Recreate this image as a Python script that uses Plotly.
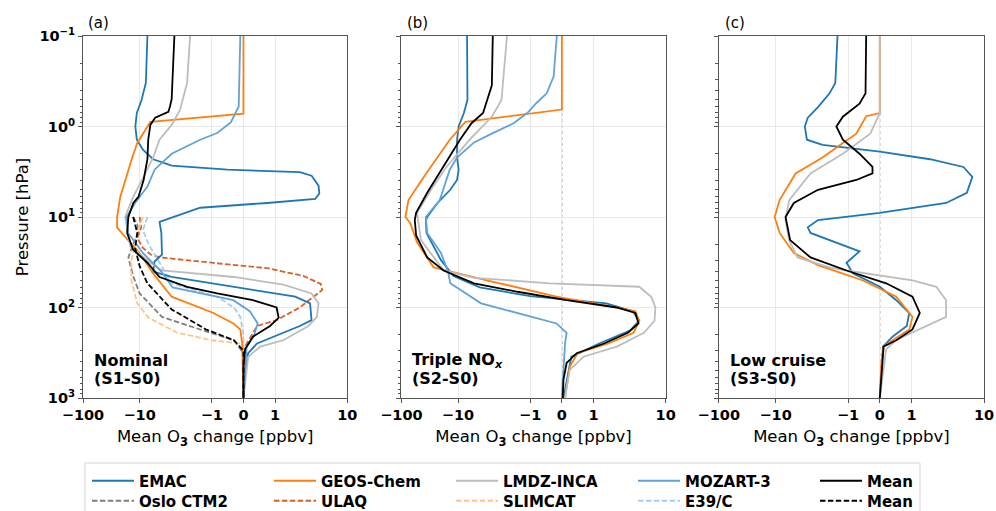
import numpy as np
import plotly.graph_objects as go

# ---------------- data: pressure [hPa] and mean O3 change [ppbv] ----------------
# Panel (a) Nominal (S1-S0)
a_emac_p = [0.1, 0.33, 0.51, 0.71, 1.0, 1.4, 1.8, 2.3, 2.7, 3.0, 3.2, 3.5, 4.5, 5.5, 6.3, 7.0, 7.9, 11.3, 15, 24, 26, 31, 40, 46, 59, 76, 90, 138, 160, 250, 320, 500, 1000]
a_emac_v = [-7.8, -8.2, -9.4, -11.2, -11.9, -11.2, -9.0, -6.5, -3.6, -0.5, 2.2, 3.2, 4.0, 4.1, 3.6, 0.75, -1.45, -5.3, -5.0, -5.0, -4.9, -6.2, -6.5, -3.6, -0.32, 1.9, 3.05, 3.2, 2.2, 0.43, 0.15, 0.05, 0.0]
a_geos_p = [0.1, 0.72, 0.89, 1.0, 1.52, 2.2, 3.9, 6, 10, 13, 16, 25, 42, 76, 115, 150, 175, 250, 1000]
a_geos_v = [0, 0, -7.1, -7.8, -11, -13.5, -17.9, -22, -25, -25, -19, -10, -6.5, -3.6, -0.95, -0.32, -0.1, -0.04, 0]
a_lmdz_p = [0.1, 0.33, 0.65, 0.96, 1.4, 2.2, 3.6, 6, 10, 21, 32, 39, 46, 56, 70, 90, 127, 160, 230, 270, 350, 1000]
a_lmdz_v = [-2.0, -2.2, -2.75, -3.6, -5.3, -6.5, -8.8, -13, -18, -14.6, -7.1, -4.9, -0.3, 1.3, 3.2, 4.0, 3.8, 2.9, 1.3, 0.53, 0.15, 0]
a_moz_p = [0.1, 0.6, 0.9, 1.18, 1.4, 2.0, 3.0, 4.6, 7, 10, 15, 25, 40, 60, 83, 110, 150, 210, 270, 1000]
a_moz_v = [-0.1, -0.15, -0.4, -0.83, -1.45, -3.6, -6.2, -7.8, -12, -17, -16, -9, -5, -3.5, -0.32, 0.2, 0.45, 0.32, 0.1, 0]
a_mean_p = [0.1, 0.5, 0.6, 0.69, 0.8, 0.96, 1.4, 2.3, 3.9, 6, 7, 10, 15, 23, 32, 46, 59, 70, 83, 100, 130, 160, 210, 290, 450, 1000]
a_mean_v = [-3.3, -3.6, -3.8, -4, -6.1, -7.1, -7.6, -7.8, -8.8, -10.5, -12.9, -15.8, -16.6, -13, -7.8, -5.3, -2.2, -0.83, 0.3, 1.05, 1.12, 0.84, 0.3, 0.05, 0, 0]
a_oslo_p = [10, 12, 15, 20, 28, 45, 70, 127, 175, 230, 320, 1000]
a_oslo_v = [-13, -11, -10.5, -13, -15.8, -13, -10, -4.9, -1.45, -0.3, 0, 0]
a_ulaq_p = [10, 13, 17, 22, 26, 28, 32, 37, 45, 55, 64, 80, 100, 138, 160, 270, 1000]
a_ulaq_v = [-10, -9.5, -11, -9, -7, -5.2, -1, 0.8, 2.5, 4.3, 4.5, 3.2, 2.2, 1.05, 0.43, 0.05, 0]
a_slim_p = [10, 15, 20, 30, 50, 90, 130, 190, 230, 250, 270, 1000]
a_slim_v = [-9, -11, -12, -14, -14, -11, -7.5, -3, -1, -0.1, 0, 0]
a_e39_p = [10, 14, 20, 30, 54, 76, 100, 127, 200, 1000]
a_e39_v = [-7.8, -9, -7.5, -5.5, -3.6, -0.83, -0.3, -0.1, 0, 0]
a_meand_p = [10, 15, 22, 35, 54, 105, 175, 230, 300, 1000]
a_meand_v = [-13, -11, -12, -10, -7.8, -3.6, -1.2, -0.3, 0, 0]

# Panel (b) Triple NOx (S2-S0)
b_emac_p = [0.1, 0.51, 0.71, 1.0, 1.4, 2.2, 3.0, 3.9, 5, 7, 10, 11, 15, 30, 45, 60, 75, 90, 110, 140, 180, 250, 350, 1000]
b_emac_v = [-7.5, -7.4, -8.3, -9.8, -10.4, -10.4, -9.8, -10.4, -13.7, -23, -35, -37, -36, -20, -12, -5, -1, 1.5, 3.5, 4.3, 3.2, 1.2, 0.3, 0.05]
b_geos_p = [0.1, 0.65, 0.89, 1.4, 3.6, 6.5, 10, 11.6, 19, 36, 50, 76, 100, 110, 140, 190, 250, 320, 450, 1000]
b_geos_v = [0, 0, -7.9, -14, -40, -75, -85, -70, -53, -27, -4, -0.17, 2.1, 3.8, 4.3, 3.6, 1.6, 0.5, 0.25, 0.1]
b_lmdz_p = [0.1, 0.51, 0.78, 1.4, 2.8, 5, 9, 18, 39, 47, 54, 59, 76, 100, 140, 190, 270, 350, 490, 1000]
b_lmdz_v = [-2.1, -2.5, -3.4, -6.9, -16, -30, -53, -45, -18, -6, -0.37, 4.3, 6.3, 7.2, 7, 5, 2.1, 0.68, 0.25, 0.1]
b_moz_p = [0.1, 0.28, 0.43, 0.55, 0.71, 0.92, 1.2, 1.5, 2.2, 3, 6.5, 10, 15, 25, 40, 54, 90, 127, 150, 190, 250, 1000]
b_moz_v = [-0.16, -0.26, -0.48, -0.8, -1.1, -1.7, -3.4, -6, -10.4, -14, -21, -37, -35, -20, -15, -13.7, -4.8, -0.9, -0.17, 0.15, 0.1, 0]
b_mean_p = [0.1, 0.35, 0.71, 0.92, 1.4, 2.8, 5.4, 9, 10.8, 16, 28, 39, 54, 67, 83, 100, 115, 150, 190, 250, 320, 410, 630, 1000]
b_mean_v = [-3.3, -3.4, -4.5, -6.5, -9.4, -18, -35, -55, -58, -55, -35, -18, -6, -1.5, 0.15, 2.1, 3.8, 4.2, 3.0, 1.4, 0.47, 0.15, 0.05, 0.03]

# Panel (c) Low cruise (S3-S0)
c_emac_p = [0.1, 0.33, 0.43, 0.61, 0.8, 1.0, 1.4, 1.6, 1.9, 2.3, 2.8, 3.6, 5.4, 7, 9, 10.8, 13, 15, 24, 32, 42, 59, 83, 115, 160, 210, 270, 1000]
c_emac_v = [-1.4, -1.5, -1.8, -2.6, -3.6, -3.95, -3.7, -2.25, 0, 1.8, 5.2, 6.9, 5.8, 3.0, 0, -2.6, -3.6, -3.3, -0.64, -1.05, -0.85, 0, 0.52, 0.93, 0.85, 0.4, 0.1, 0]
c_geos_p = [0.1, 0.71, 0.77, 1.2, 1.52, 2.2, 3.3, 6.5, 10, 15, 25, 34, 50, 76, 127, 175, 230, 270, 400, 1000]
c_geos_v = [0, 0, -0.43, -0.74, -1.18, -2.25, -5.3, -8.8, -10.4, -8.8, -5.6, -2.6, -0.55, 0.52, 1.03, 0.93, 0.4, 0.12, 0.05, 0]
c_lmdz_p = [0.1, 0.71, 1.2, 2.0, 3.3, 6.5, 10.8, 18, 28, 36, 39, 50, 59, 83, 127, 175, 230, 290, 1000]
c_lmdz_v = [0, 0, -0.3, -1.18, -3.3, -6.5, -7.3, -6.5, -5, -1.8, -1.05, 1.03, 2.2, 3.0, 3.0, 1.3, 0.5, 0.2, 0]
c_mean_p = [0.1, 0.43, 0.56, 0.78, 1.0, 1.4, 2.0, 2.8, 3.3, 3.9, 5, 7, 10, 18, 28, 39, 54, 76, 115, 175, 230, 270, 1000]
c_mean_v = [-0.43, -0.45, -0.64, -1.18, -1.45, -1.18, -0.64, -0.23, -0.23, -0.74, -2.6, -5.6, -7.3, -6.3, -3.3, -1.05, 0.2, 1.03, 1.3, 1.03, 0.52, 0.12, 0]

x_ticks = [-100, -10, -1, 0, 1, 10]
x_ticklabels = ['\u2212100', '\u221210', '\u22121', '0', '1', '10']
y_ticks = [0.1, 1, 10, 100, 1000]
y_ticklabels = ['10<sup>\u22121</sup>', '10<sup>0</sup>', '10<sup>1</sup>', '10<sup>2</sup>', '10<sup>3</sup>']

COL = dict(EMAC='#1f77b4', GEOS='#ff7f0e', LMDZ='#bdbdbd', MOZ='#5fa3da', MEAN='#000000',
           OSLO='#7f7f7f', ULAQ='#d4622b', SLIM='#fdc58a', E39='#a8cfea')

# symmetric-log style transform (linear inside |x|<=1)
LIN = 0.438
OUT = 0.784


def sx(v):
    v = np.asarray(v, dtype=float)
    a = np.abs(v)
    inner = np.where(a <= 1, v * LIN, np.sign(v) * (LIN + np.log10(np.maximum(a, 1.0))))
    outer = -(LIN + 1.0 + OUT * np.log10(np.maximum(a, 10.0) / 10.0))
    return np.where(v < -10, outer, inner)


FONT = 'DejaVu Sans'
fig = go.Figure()


def add(panel, p, v, key, name, dash='solid', legend='legend', rank=1, show=False):
    ax = '' if panel == 1 else str(panel)
    fig.add_trace(go.Scatter(
        x=sx(v), y=p, mode='lines', name=name,
        line=dict(color=COL[key], width=1.8, dash=dash),
        xaxis='x' + ax, yaxis='y' + ax, showlegend=show,
        legend=legend, legendrank=rank, hoverinfo='name+y'))


DASH = '5.5px,2.4px'
# panel a
add(1, a_oslo_p, a_oslo_v, 'OSLO', 'Oslo CTM2', DASH, 'legend2', 1, True)
add(1, a_ulaq_p, a_ulaq_v, 'ULAQ', 'ULAQ', DASH, 'legend2', 2, True)
add(1, a_slim_p, a_slim_v, 'SLIM', 'SLIMCAT', DASH, 'legend2', 3, True)
add(1, a_e39_p, a_e39_v, 'E39', 'E39/C', DASH, 'legend2', 4, True)
add(1, a_emac_p, a_emac_v, 'EMAC', 'EMAC', 'solid', 'legend', 1, True)
add(1, a_geos_p, a_geos_v, 'GEOS', 'GEOS-Chem', 'solid', 'legend', 2, True)
add(1, a_lmdz_p, a_lmdz_v, 'LMDZ', 'LMDZ-INCA', 'solid', 'legend', 3, True)
add(1, a_moz_p, a_moz_v, 'MOZ', 'MOZART-3', 'solid', 'legend', 4, True)
add(1, a_meand_p, a_meand_v, 'MEAN', 'Mean', DASH, 'legend2', 5, True)
add(1, a_mean_p, a_mean_v, 'MEAN', 'Mean', 'solid', 'legend', 5, True)
# panel b
add(2, b_emac_p, b_emac_v, 'EMAC', 'EMAC')
add(2, b_geos_p, b_geos_v, 'GEOS', 'GEOS-Chem')
add(2, b_lmdz_p, b_lmdz_v, 'LMDZ', 'LMDZ-INCA')
add(2, b_moz_p, b_moz_v, 'MOZ', 'MOZART-3')
add(2, b_mean_p, b_mean_v, 'MEAN', 'Mean')
# panel c
add(3, c_emac_p, c_emac_v, 'EMAC', 'EMAC')
add(3, c_geos_p, c_geos_v, 'GEOS', 'GEOS-Chem')
add(3, c_lmdz_p, c_lmdz_v, 'LMDZ', 'LMDZ-INCA')
add(3, c_mean_p, c_mean_v, 'MEAN', 'Mean')

W, H = 996, 511
XDOM = [[83 / W, 347.3 / W], [401.4 / W, 665.7 / W], [718.8 / W, 984 / W]]
YDOM = [1 - 398 / H, 1 - 36 / H]

LINEC = '#555555'
GRIDC = '#e9e9e9'
xrange_ = [float(sx(-100)), float(sx(10))]

layout = dict(width=W, height=H, margin=dict(l=0, r=0, t=0, b=0, autoexpand=False),
              paper_bgcolor='white', plot_bgcolor='white',
              font=dict(family=FONT, color='black'))

for i in range(3):
    sfx = '' if i == 0 else str(i + 1)
    layout['xaxis' + sfx] = dict(
        domain=XDOM[i], anchor='y' + sfx, range=xrange_,
        tickmode='array', tickvals=[float(t) for t in sx(x_ticks)], ticktext=x_ticklabels,
        ticks='outside', ticklen=4, tickcolor=LINEC, tickwidth=1,
        showline=True, linecolor=LINEC, linewidth=1, mirror=True,
        showgrid=True, gridcolor=GRIDC, gridwidth=1, zeroline=False,
        tickfont=dict(family=FONT, size=14.5, weight='bold', color='black'),
        title=dict(text='Mean O<sub><b>3</b></sub> change [ppbv]', standoff=8,
                   font=dict(family=FONT, size=16.5, color='black')))
    layout['yaxis' + sfx] = dict(
        domain=YDOM, anchor='x' + sfx, type='log', range=[3, -1],
        tickmode='array', tickvals=y_ticks, ticktext=y_ticklabels,
        ticks='outside', ticklen=4, tickcolor=LINEC, tickwidth=1,
        minor=dict(ticks='outside', ticklen=2.5, tickcolor=LINEC, dtick='D1', showgrid=False),
        showline=True, linecolor=LINEC, linewidth=1, mirror=True,
        showgrid=True, gridcolor=GRIDC, gridwidth=1, zeroline=False,
        showticklabels=(i == 0),
        tickfont=dict(family=FONT, size=14.5, weight='bold', color='black'),
        title=dict(text='Pressure [hPa]' if i == 0 else '', standoff=6,
                   font=dict(family=FONT, size=16.5, color='black')))

LEG = dict(orientation='h', x=87 / W, xanchor='left', yanchor='middle',
           bgcolor='rgba(0,0,0,0)', borderwidth=0, entrywidth=125, entrywidthmode='pixels',
           font=dict(family=FONT, size=15, weight='bold', color='black'),
           itemwidth=42, tracegroupgap=0)
layout['legend'] = dict(LEG, y=1 - 481 / H)
layout['legend2'] = dict(LEG, y=1 - 501 / H)

shapes = []
for i in range(3):
    sfx = '' if i == 0 else str(i + 1)
    shapes.append(dict(type='line', xref='x' + sfx, yref='y' + sfx + ' domain',
                       x0=float(sx(0)), x1=float(sx(0)), y0=0, y1=1,
                       line=dict(color='#858585', width=1, dash='dot'), layer='below'))
shapes.append(dict(type='rect', xref='paper', yref='paper', x0=85 / W, x1=920 / W,
                   y0=-0.02, y1=1 - 463 / H, line=dict(color='#d5d5d5', width=1),
                   fillcolor='white', layer='below'))
layout['shapes'] = shapes

ann = []
for lab, x in [('(a)', 86), ('(b)', 405), ('(c)', 723)]:
    ann.append(dict(text=lab, xref='paper', yref='paper', x=x / W, y=1 - 23 / H,
                    xanchor='left', yanchor='middle', showarrow=False,
                    font=dict(family=FONT, size=15, color='black')))
for t1, t2, x in [('Nominal', '(S1-S0)', 92), ('Triple NO<sub><i>x</i></sub>', '(S2-S0)', 410),
                  ('Low cruise', '(S3-S0)', 728)]:
    ann.append(dict(text='<b>' + t1 + '</b>', xref='paper', yref='paper', x=x / W, y=1 - 360 / H,
                    xanchor='left', yanchor='middle', showarrow=False,
                    font=dict(family=FONT, size=16, color='black')))
    ann.append(dict(text='<b>' + t2 + '</b>', xref='paper', yref='paper', x=x / W, y=1 - 378 / H,
                    xanchor='left', yanchor='middle', showarrow=False,
                    font=dict(family=FONT, size=16, color='black')))
layout['annotations'] = ann

fig.update_layout(**layout)
fig.write_html('out.html')
